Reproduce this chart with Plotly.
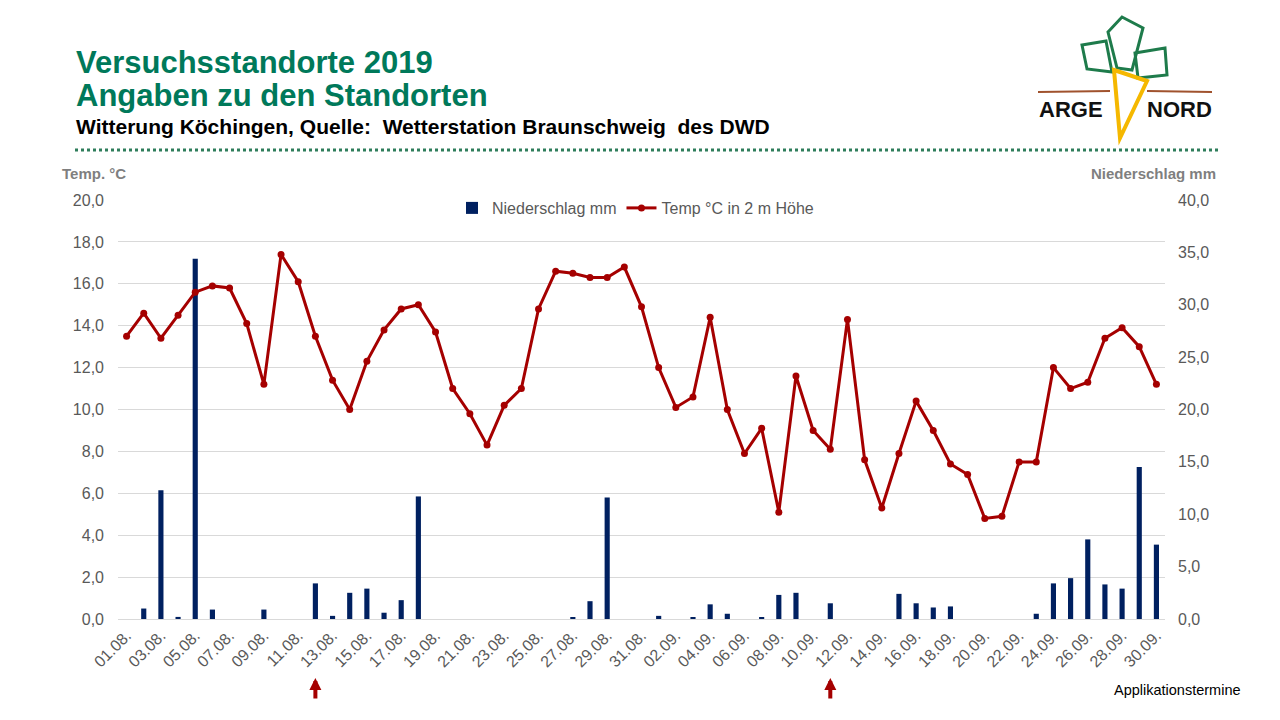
import plotly.graph_objects as go

DAYS = [f"{d:02d}.08." for d in range(1, 32)] + [f"{d:02d}.09." for d in range(1, 31)]

TEMPERATURE = [
    13.5, 14.6, 13.4, 14.5, 15.6, 15.9, 15.8, 14.1, 11.2, 17.4,
    16.1, 13.5, 11.4, 10.0, 12.3, 13.8, 14.8, 15.0, 13.7, 11.0,
    9.8, 8.3, 10.2, 11.0, 14.8, 16.6, 16.5, 16.3, 16.3, 16.8,
    14.9, 12.0, 10.1, 10.6, 14.4, 10.0, 7.9, 9.1, 5.1, 11.6,
    9.0, 8.1, 14.3, 7.6, 5.3, 7.9, 10.4, 9.0, 7.4, 6.9,
    4.8, 4.9, 7.5, 7.5, 12.0, 11.0, 11.3, 13.4, 13.9, 13.0,
    11.2,
]

PRECIPITATION = [
    0.0, 1.0, 12.3, 0.2, 34.4, 0.9, 0.0, 0.0, 0.9, 0.0,
    0.0, 3.4, 0.3, 2.5, 2.9, 0.6, 1.8, 11.7, 0.0, 0.0,
    0.0, 0.0, 0.0, 0.0, 0.0, 0.0, 0.1, 1.7, 11.6, 0.0,
    0.0, 0.3, 0.0, 0.1, 1.4, 0.5, 0.0, 0.1, 2.3, 2.5,
    0.0, 1.5, 0.0, 0.0, 0.0, 2.4, 1.5, 1.1, 1.2, 0.0,
    0.0, 0.0, 0.0, 0.5, 3.4, 3.9, 7.6, 3.3, 2.9, 14.5,
    7.1,
]

TICK_DAYS = DAYS[::2]
APPLICATION_DAYS = ["12.08.", "11.09."]

GREEN = "#00795a"
NAVY = "#002060"
RED = "#a50000"
GREY = "#595959"
FONT = "Liberation Sans, Arial, sans-serif"

# the page body has an 8px margin, so the figure is a bit smaller than the window
OFF = 8
W, H = 1280 - OFF, 720 - OFF
# plot area in page pixels
PLOT_L, PLOT_R, PLOT_T, PLOT_B = 118, 1165, 200, 619


def px(x):
    return (x - PLOT_L) / (PLOT_R - PLOT_L)


def py(y):
    return (PLOT_B - y) / (PLOT_B - PLOT_T)


fig = go.Figure()
fig.add_trace(
    go.Bar(
        x=DAYS,
        y=PRECIPITATION,
        name="Niederschlag mm",
        marker={"color": NAVY, "line": {"width": 0}},
        width=0.3,
        yaxis="y",
    )
)
fig.add_trace(
    go.Scatter(
        x=DAYS,
        y=TEMPERATURE,
        name="Temp °C in 2 m Höhe",
        mode="lines+markers",
        line={"color": RED, "width": 3},
        marker={"color": RED, "size": 7},
        yaxis="y2",
    )
)

annotations = [
    dict(text="<b>Versuchsstandorte 2019</b>", x=px(74), y=py(62), font={"size": 31, "color": GREEN}),
    dict(text="<b>Angaben zu den Standorten</b>", x=px(74), y=py(95), font={"size": 31, "color": GREEN}),
    dict(
        text="<b>Witterung Köchingen, Quelle:  Wetterstation Braunschweig  des DWD</b>",
        x=px(74), y=py(126), font={"size": 21, "color": "#000000"},
    ),
    dict(text="<b>Temp. °C</b>", x=px(60), y=py(173), font={"size": 15, "color": "#7f7f7f"}),
    dict(text="<b>Niederschlag mm</b>", x=px(1218), y=py(173), xanchor="right",
         font={"size": 15, "color": "#7f7f7f"}),
    dict(text="Applikationstermine", x=px(1112), y=py(690), font={"size": 14.5, "color": "#000000"}),
    dict(text="<b>ARGE</b>", x=px(1071), y=py(109), xanchor="center", font={"size": 22, "color": "#111111"}),
    dict(text="<b>NORD</b>", x=px(1179), y=py(109), xanchor="center", font={"size": 22, "color": "#111111"}),
]
for a in annotations:
    a.setdefault("xanchor", "left")
    a.update(xref="paper", yref="paper", yanchor="middle", showarrow=False)
    a["font"]["family"] = FONT

for day in APPLICATION_DAYS:
    annotations.append(
        dict(
            x=day, xref="x", y=py(678), yref="paper", text="",
            showarrow=True, arrowhead=2, arrowsize=0.6, arrowwidth=4, arrowcolor=RED,
            ax=0, ay=22,
        )
    )


def poly(points, color, width=3):
    path = "M " + " L ".join(f"{px(x)},{py(y)}" for x, y in points) + " Z"
    return dict(type="path", xref="paper", yref="paper", path=path,
                line={"color": color, "width": width})


shapes = [
    dict(type="line", xref="paper", yref="paper", x0=px(75), x1=px(1218), y0=py(150), y1=py(150),
         line={"color": "#2e7d5b", "width": 3, "dash": "dot"}),
    # logo
    dict(type="line", xref="paper", yref="paper", x0=px(1038), x1=px(1110), y0=py(92), y1=py(91),
         line={"color": "#a0522d", "width": 2}),
    dict(type="line", xref="paper", yref="paper", x0=px(1147), x1=px(1212), y0=py(91), y1=py(92),
         line={"color": "#a0522d", "width": 2}),
    poly([(1082, 45), (1106, 41), (1112, 72), (1087, 69)], "#1e7b4b"),
    poly([(1108, 32), (1122, 17), (1143, 28), (1132, 70), (1117, 68)], "#1e7b4b"),
    poly([(1135, 53), (1165, 48), (1167, 75), (1138, 78)], "#1e7b4b"),
    poly([(1114, 70), (1147, 81), (1120, 138)], "#f5b800", 4),
]

fig.update_layout(
    width=W,
    height=H,
    margin={"l": PLOT_L - OFF, "r": 1280 - PLOT_R, "t": PLOT_T - OFF, "b": 720 - PLOT_B, "pad": 0},
    paper_bgcolor="#ffffff",
    plot_bgcolor="#ffffff",
    separators=",.",
    font={"family": FONT, "size": 16, "color": GREY},
    showlegend=True,
    legend={
        "orientation": "h",
        "x": px(452),
        "y": py(208),
        "xanchor": "left",
        "yanchor": "middle",
        "font": {"size": 16, "color": GREY},
        "bgcolor": "rgba(0,0,0,0)",
    },
    xaxis={
        "type": "category",
        "tickmode": "array",
        "tickvals": TICK_DAYS,
        "tickangle": -45,
        "tickfont": {"size": 16, "color": GREY},
        "showgrid": False,
        "showline": True,
        "linecolor": "#d9d9d9",
        "linewidth": 1,
        "ticks": "",
        "range": [-0.5, len(DAYS) - 0.5],
    },
    yaxis={
        "side": "right",
        "range": [0, 40],
        "dtick": 5,
        "tickformat": ".1f",
        "showgrid": False,
        "zeroline": False,
        "ticks": "",
        "ticklabelstandoff": 12,
        "tickfont": {"size": 16, "color": GREY},
    },
    yaxis2={
        "side": "left",
        "overlaying": "y",
        "range": [0, 20],
        "dtick": 2,
        "tickformat": ".1f",
        "showgrid": True,
        "gridcolor": "#d9d9d9",
        "gridwidth": 1,
        "zeroline": False,
        "ticks": "",
        "ticklabelstandoff": 13,
        "tickfont": {"size": 16, "color": GREY},
    },
    annotations=annotations,
    shapes=shapes,
)

fig.write_html("out.html")
